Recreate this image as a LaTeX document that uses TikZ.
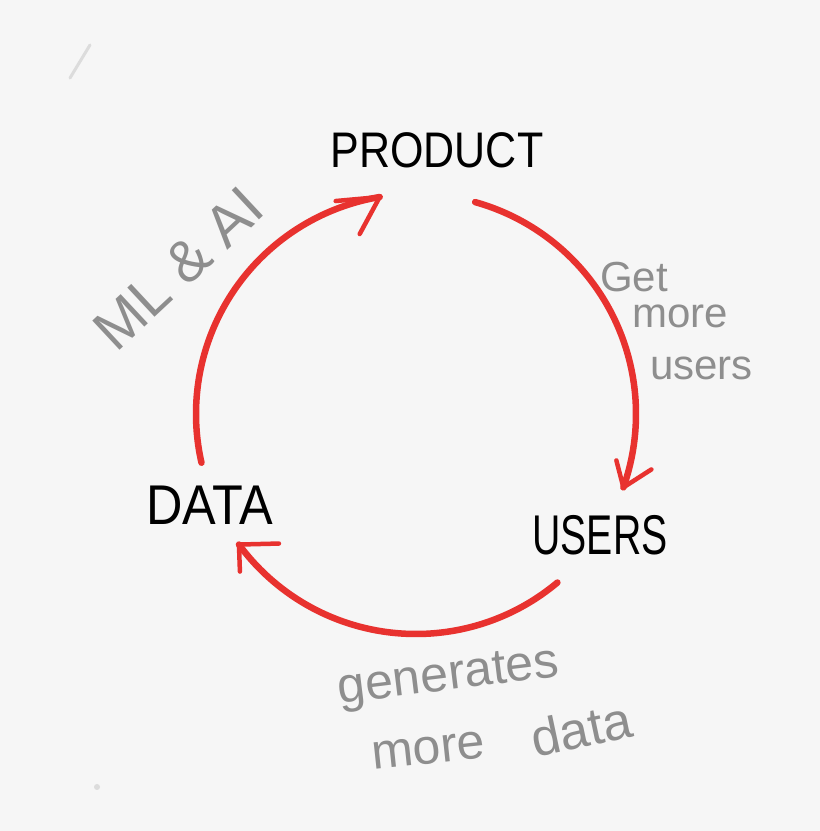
\documentclass[tikz,border=0pt]{standalone}
\usepackage{fontspec}
\setmainfont{Liberation Sans}
\definecolor{bg}{HTML}{F6F6F6}
\definecolor{loopred}{HTML}{E8322F}
\definecolor{pencil}{HTML}{8E8E8E}
\definecolor{smudge}{HTML}{DCDCDC}
\begin{document}
\begin{tikzpicture}[x=1pt,y=1pt,
  cycle/.style={draw=loopred, line width=6.5pt, line cap=round},
  barb/.style={draw=loopred, line width=4.5pt, line cap=round, line join=round},
  word/.style={text=black, inner sep=0pt},
  note/.style={text=pencil, inner sep=0pt}]
\fill[bg] (0,0) rectangle (820,831);
\useasboundingbox (0,0) rectangle (820,831);
% stray marks
\draw[smudge, line width=3pt, line cap=round] (70,753) -- (90,786);
\fill[smudge] (97,44) circle (3);
% centre of the cycle
\coordinate (c) at (416,417);
% main labels
\node[word, font=\fontsize{50}{50}\selectfont, xscale=0.86] (product) at (437,681) {PRODUCT};
\node[word, font=\fontsize{56}{56}\selectfont, xscale=0.7] (users) at (600,296) {USERS};
\node[word, font=\fontsize{56}{56}\selectfont, xscale=0.9] (data) at (210,326) {DATA};
% arcs
\draw[cycle] (c) ++(74.4:220) arc[start angle=74.4, end angle=-19.5, radius=220] coordinate (t1);
\draw[cycle] (c) ++(-50:220) arc[start angle=-50, end angle=-143.6, radius=220] coordinate (t2);
\draw[cycle] (c) ++(192.8:220) arc[start angle=192.8, end angle=99.5, radius=220] coordinate (t3);
% arrow heads
\draw[barb] (t1) ++(-7,27) -- (t1) -- +(28,18);
\draw[barb] (t2) ++(40,1) -- (t2) -- +(1,-27);
\draw[barb] (t3) ++(-44,-4) -- (t3) -- +(-20,-37);
% pencil notes
\node[note, font=\fontsize{42}{42}\selectfont, anchor=base west] (get) at (600,539) {Get};
\node[note, font=\fontsize{42}{42}\selectfont, anchor=base west] (moreu) at (632,503) {more};
\node[note, font=\fontsize{42}{42}\selectfont, anchor=base west] (usersn) at (650,451) {users};
\node[note, font=\fontsize{58}{58}\selectfont, anchor=base, rotate=43] (mlai) at (192,548) {ML \& AI};
\node[note, font=\fontsize{50}{50}\selectfont, anchor=base, rotate=7] (gen) at (450,141) {generates};
\node[note, font=\fontsize{50}{50}\selectfont, anchor=base, rotate=6] (mored) at (430,67) {more};
\node[note, font=\fontsize{52}{52}\selectfont, anchor=base, rotate=12] (datan) at (585,84) {data};
\end{tikzpicture}
\end{document}
